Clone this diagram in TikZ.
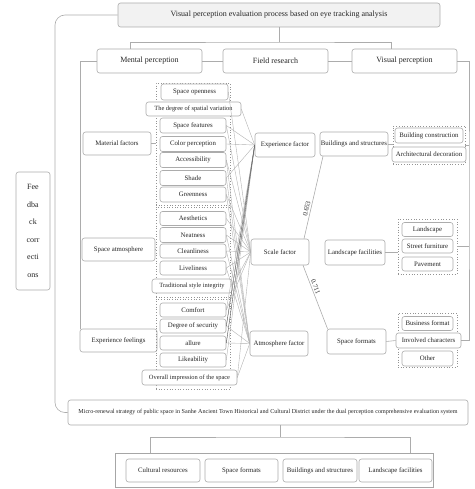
\documentclass[tikz,border=0pt]{standalone}
\usepackage{fontspec}
\setmainfont{Liberation Serif}
\usetikzlibrary{calc}
\begin{document}
\begin{tikzpicture}[x=1pt,y=-1pt,
 box/.style={draw=gray!65, rounded corners=2.5pt, fill=white, text=black!85, inner sep=0pt, align=center, font=\fontsize{6.8}{8}\selectfont, line width=0.6pt},
 hbox/.style={box, font=\fontsize{8}{9.5}\selectfont},
 sbox/.style={box, font=\fontsize{6.4}{8}\selectfont},
 grp/.style={draw=gray!85, dotted, line width=0.7pt, inner sep=0pt},
 ln/.style={draw=gray!65, line width=0.6pt},
 thinl/.style={draw=gray!60, line width=0.4pt},
 darkl/.style={draw=gray!80!black, line width=0.4pt},
 wlabel/.style={font=\fontsize{6.8}{8}\selectfont, text=black!85, inner sep=1.5pt},
]
\useasboundingbox (0,0) rectangle (474,489);

% header
\node[hbox, fill=gray!10, minimum width=322pt, minimum height=24pt] (top) at (279,15) {Visual perception evaluation process based on eye tracking analysis};
\node[hbox, minimum width=105pt, minimum height=24pt] (mental) at (149.5,61) {Mental perception};
\node[hbox, minimum width=105pt, minimum height=24pt] (field) at (275.5,61) {Field research};
\node[hbox, minimum width=105pt, minimum height=24pt] (visual) at (404.5,61) {Visual perception};
\coordinate (tj) at (279,42);

% feedback
\node[box, font=\fontsize{8}{17.5}\selectfont, minimum width=34pt, minimum height=118pt] (fb) at (33,231) {Fee\\dba\\ck\\corr\\ecti\\ons};

% left categories
\node[box, minimum width=68pt, minimum height=23pt] (mat) at (117,143.5) {Material factors};
\node[box, minimum width=73pt, minimum height=23pt] (atm) at (118.5,249.5) {Space atmosphere};
\node[box, minimum width=77pt, minimum height=23pt] (exf) at (118.5,340.5) {Experience feelings};

% groups
\node[grp, minimum width=74pt, minimum height=122pt] (g1) at (193,144) {};
\node[grp, minimum width=74pt, minimum height=90pt] (g2) at (193,252) {};
\node[grp, minimum width=74pt, minimum height=90pt] (g3) at (193,344) {};

% items
\node[box, minimum width=67pt, minimum height=16pt] (so) at (194.5,92) {Space openness};
\node[sbox, minimum width=95pt, minimum height=14pt] (dsv) at (193.5,109) {The degree of spatial variation};
\node[box, minimum width=66pt, minimum height=15pt] (sf) at (193,125.5) {Space features};
\node[box, minimum width=66pt, minimum height=15pt] (cp) at (193,144) {Color perception};
\node[box, minimum width=66pt, minimum height=15pt] (acc) at (193,160) {Accessibility};
\node[box, minimum width=66pt, minimum height=15pt] (shade) at (193,178) {Shade};
\node[box, minimum width=66pt, minimum height=15pt] (green) at (193,194.5) {Greenness};
\node[box, minimum width=66pt, minimum height=14pt] (aes) at (193,218.5) {Aesthetics};
\node[box, minimum width=66pt, minimum height=15pt] (neat) at (193,235) {Neatness};
\node[box, minimum width=66pt, minimum height=14pt] (clean) at (193,251) {Cleanliness};
\node[box, minimum width=66pt, minimum height=14pt] (live) at (193,268) {Liveliness};
\node[sbox, minimum width=80pt, minimum height=14pt] (trad) at (192,286) {Traditional style integrity};
\node[box, minimum width=66pt, minimum height=14pt] (comf) at (193,310) {Comfort};
\node[box, minimum width=66pt, minimum height=14pt] (sec) at (193,326) {Degree of security};
\node[box, minimum width=66pt, minimum height=14pt] (all) at (193,343) {allure};
\node[box, minimum width=66pt, minimum height=14pt] (like) at (193,360) {Likeability};
\node[sbox, minimum width=95pt, minimum height=15pt] (ovr) at (189.5,377.5) {Overall impression of the space};

% factors
\node[box, minimum width=60pt, minimum height=24pt] (ef) at (285,145) {Experience factor};
\node[box, minimum width=58pt, minimum height=26pt] (scf) at (280,252) {Scale factor};
\node[box, minimum width=58pt, minimum height=25pt] (af) at (279,343.5) {Atmosphere factor};

% right categories
\node[box, minimum width=68pt, minimum height=24pt] (bs) at (354,144) {Buildings and structures};
\node[box, minimum width=60pt, minimum height=25pt] (lf) at (355,252.5) {Landscape facilities};
\node[box, minimum width=59pt, minimum height=25pt] (spf) at (356.5,341.5) {Space formats};

% right groups and items
\node[grp, minimum width=72pt, minimum height=38pt] (gA) at (429,145) {};
\node[grp, minimum width=59pt, minimum height=55pt] (gB) at (427.5,246.5) {};
\node[grp, minimum width=59pt, minimum height=54pt] (gC) at (427.5,340) {};
\node[box, minimum width=68pt, minimum height=15pt] (bc) at (429,135.5) {Building construction};
\node[box, minimum width=74pt, minimum height=15pt] (ad) at (429,154.5) {Architectural decoration};
\node[box, minimum width=51pt, minimum height=14pt] (land) at (427.5,229.5) {Landscape};
\node[box, minimum width=51pt, minimum height=14pt] (street) at (427.5,246) {Street furniture};
\node[box, minimum width=51pt, minimum height=14pt] (pave) at (427.5,264) {Pavement};
\node[box, minimum width=51pt, minimum height=14pt] (bf) at (427.5,323.5) {Business format};
\node[box, minimum width=65pt, minimum height=15pt] (ic) at (428.5,340.5) {Involved characters};
\node[box, minimum width=51pt, minimum height=15pt] (oth) at (427.5,358.5) {Other};

% bottom
\node[box, font=\fontsize{6.1}{7.5}\selectfont, minimum width=400pt, minimum height=25pt] (micro) at (268,412.5) {Micro-renewal strategy of public space in Sanhe Ancient Town Historical and Cultural District under the dual perception comprehensive evaluation system};
\node[draw=gray!70, line width=0.7pt, minimum width=318pt, minimum height=34pt, inner sep=0pt] (outer) at (274,470) {};
\node[box, minimum width=74pt, minimum height=23pt] (crb) at (163,470.5) {Cultural resources};
\node[box, minimum width=73pt, minimum height=23pt] (sfb) at (241.5,470.5) {Space formats};
\node[box, minimum width=74pt, minimum height=23pt] (bsb) at (320,470.5) {Buildings and structures};
\node[box, minimum width=73pt, minimum height=23pt] (lfb) at (395.5,470.5) {Landscape facilities};
\coordinate (mj) at (280,437);

% connectors: header
\draw[ln] (top.south -| tj) -- (tj);
\draw[ln] ([xshift=-19.5pt]mental.north) |- (tj) -| ([xshift=-13.5pt]visual.north);
\draw[ln] (mental.east) -- (field.west);
\draw[ln] (field.east) -- (visual.west);
\draw[ln] (mental.west) -| ([xshift=1pt]exf.north west);
\coordinate (rv) at (469,200);
\draw[ln] (visual.east) -| (rv) |- (ic.east);
\draw[ln] (gA.east) -- (gA.east -| rv);
\draw[ln] (gB.east) -- (gB.east -| rv);

% feedback loop
\coordinate (fv) at (55,200);
\draw[ln, rounded corners=10pt] (top.west) -| (fv) |- (micro.west);

% categories to groups
\draw[ln] (mat.east) -- (g1.west |- mat.east);
\draw[ln] (atm.east) -- (g2.west |- atm.east);
\draw[ln] (bs.east) -- (gA.west |- bs.east);
\draw[ln] (lf.east) -- (gB.west |- lf.east);
\draw[ln] (spf.east) -- (ic.west);

% factor links with weights
\draw[ln] ([xshift=24pt]scf.north) -- node[pos=0.35, sloped, above, wlabel] {0.653} ([xshift=-31pt]bs.south);
\draw[ln] ([xshift=23pt]scf.south) -- node[pos=0.36, sloped, above, wlabel] {0.711} ([xshift=-29pt]spf.north);

% item-to-factor tangle
\foreach \i in {dsv,sf,cp,shade,comf,sec,all,like,trad}
  \draw[thinl] (\i.east) -- (ef.west);
\foreach \i in {sec,all}
  \draw[darkl] (\i.east) -- (ef.west);
\foreach \i in {so,sf,acc,green,aes,neat,clean,live,trad,comf,ovr}
  \draw[thinl] (\i.east) -- (scf.west);
\foreach \i in {acc,shade,green,neat,clean,live,sec,all,ovr}
  \draw[thinl] (\i.east) -- (af.west);

% bottom connectors
\draw[ln] ([xshift=12pt]micro.south) -- (mj);
\draw[ln] ([xshift=-124pt]outer.north) |- (mj) -| ([xshift=136pt]outer.north);
\end{tikzpicture}
\end{document}
